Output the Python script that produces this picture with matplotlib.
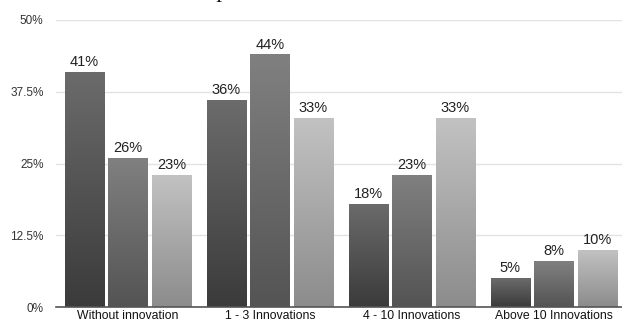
import numpy as np
import matplotlib
matplotlib.use("Agg")
import matplotlib.pyplot as plt
from matplotlib.colors import LinearSegmentedColormap

categories = ["Without innovation", "1 - 3 Innovations", "4 - 10 Innovations", "Above 10 Innovations"]
series_1 = [41, 36, 18, 5]   # dark bars
series_2 = [26, 44, 23, 8]   # mid bars
series_3 = [23, 33, 33, 10]  # light bars
values = [series_1, series_2, series_3]
yticks = [0, 12.5, 25, 37.5, 50]
ytick_labels = ["0%", "12.5%", "25%", "37.5%", "50%"]

# gradient colours per series (bottom, top)
grad = [("#3b3b3b", "#6b6b6b"), ("#545454", "#808080"), ("#8c8c8c", "#c2c2c2")]

plt.rcParams['font.family'] = ['Liberation Sans', 'DejaVu Sans']

fig = plt.figure(figsize=(6.22, 3.24), dpi=100)
ax = fig.add_axes([56/622, 17/324, 1 - 56/622, 287/324])

x = np.arange(len(categories))
width = 0.275
step = 0.306

for s, vals in enumerate(values):
    cmap = LinearSegmentedColormap.from_list(f"g{s}", [grad[s][0], grad[s][1]])
    pos = x + (s - 1) * step
    bars = ax.bar(pos, vals, width, color="none", edgecolor="none", zorder=3)
    for b, v in zip(bars, vals):
        x0 = b.get_x()
        img = np.linspace(0, 1, 100).reshape(-1, 1)
        im = ax.imshow(img, cmap=cmap, origin="lower", aspect="auto",
                       extent=[x0, x0 + b.get_width(), 0, v], zorder=3)
        im.set_clip_path(b)
        ax.text(b.get_x() + b.get_width() / 2, v + 0.5, f"{v}%", ha="center", va="bottom",
                fontsize=10.5, color="#222222", zorder=4)

ax.set_xlim(-0.507, 3.48)
ax.set_ylim(0, 50)
ax.set_yticks(yticks)
ax.set_yticklabels(ytick_labels)
ax.set_xticks(x)
ax.set_xticklabels(categories)
ax.tick_params(axis="y", length=0, pad=9, labelsize=8.5, labelcolor="#333333")
ax.tick_params(axis="x", length=0, pad=2, labelsize=8.8, labelcolor="#111111")
for lbl in ax.get_yticklabels():
    lbl.set_ha("right")

ax.grid(axis="y", color="#e2e2e2", linewidth=1, zorder=0)
ax.set_axisbelow(True)
for sp in ["top", "right", "left"]:
    ax.spines[sp].set_visible(False)
ax.spines["bottom"].set_color("#555555")
ax.spines["bottom"].set_linewidth(1.2)
ax.spines["bottom"].set_zorder(5)

# clipped title descender at very top (as in reference)
fig.text(223/622, 1 + 3/324, "p", ha="center", va="baseline", fontsize=16,
         family=["Liberation Serif", "DejaVu Serif"], style="italic", color="#111111")

fig.savefig("out.png", dpi=100)
